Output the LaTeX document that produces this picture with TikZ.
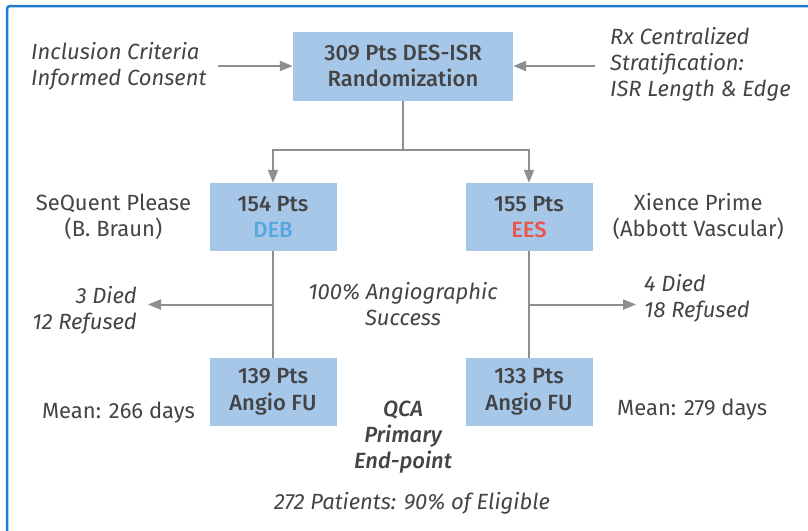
\documentclass[tikz,border=0pt]{standalone}
\usepackage{fontspec}
\setmainfont{Fira Sans}[BoldFont={Fira Sans Medium},BoldItalicFont={Fira Sans Medium Italic}]
\usetikzlibrary{arrows.meta,positioning,calc}

\definecolor{boxblue}{RGB}{166,199,232}
\definecolor{textgrey}{RGB}{68,68,70}
\definecolor{arrowgrey}{RGB}{140,142,146}
\definecolor{frameblue}{RGB}{30,125,205}
\definecolor{debblue}{RGB}{88,166,222}
\definecolor{eesred}{RGB}{236,84,74}

\begin{document}
\begin{tikzpicture}[
    x=1pt, y=-1pt,
    every node/.style={font=\fontsize{22}{26}\selectfont, text=textgrey, inner sep=2pt},
    ptsbox/.style={rectangle, fill=boxblue, minimum width=127pt, minimum height=68pt, align=center, font=\fontsize{22}{26.5}\selectfont\bfseries},
    note/.style={align=left, font=\fontsize{22}{26}\selectfont\itshape},
    arrow/.style={-{Triangle[length=13pt,width=10pt]}, line width=2pt, draw=arrowgrey},
    link/.style={line width=2pt, draw=arrowgrey},
    frame/.style={line width=2.5pt, draw=frameblue, rounded corners=3pt}
]
\useasboundingbox (0,0) rectangle (808,530);

% --- Frame ---
\draw[frame] (7,540) -- (7,6) -- (820,6);

% --- Boxes ---

% Randomization
\node[ptsbox, minimum width=220pt, minimum height=69pt] (rand) at (403,66) {309 Pts DES-ISR\\Randomization};

% Treatment arms
\node[ptsbox] (deb) at (273,217) {154 Pts\\\textcolor{debblue}{DEB}};
\node[ptsbox] (ees) at (529,217) {155 Pts\\\textcolor{eesred}{EES}};

% Follow-up
\node[ptsbox] (fudeb) at (273,392) {139 Pts\\Angio FU};
\node[ptsbox] (fuees) at (529,392) {133 Pts\\Angio FU};

% --- Notes ---
\node[note, anchor=west] (incl) at (29,66) {Inclusion Criteria\\Informed Consent};
\node[note, anchor=west] (strat) at (608,64) {Rx Centralized\\Stratification:\\ISR Length \& Edge};

\node[align=center, left=16pt of deb] (braun) {SeQuent Please\\(B. Braun)};
\node[align=center, right=18pt of ees] (abbott) {Xience Prime\\(Abbott Vascular)};

\node[note, align=right, anchor=east] (lossdeb) at (139,310) {3 Died\\12 Refused};
\node[note, anchor=west] (lossees) at (642,298) {4 Died\\18 Refused};

\node[note, align=center] (success) at (403,304.5) {100\% Angiographic\\Success};

\node[anchor=east] (meandeb) at (197,413) {Mean: 266 days};
\node[anchor=west] (meanees) at (615,410) {Mean: 279 days};

\node[note, align=center, font=\fontsize{22}{26}\selectfont\bfseries\itshape] (qca) at (403,437) {QCA\\Primary\\End-point};
\node[note, align=center] (total) at (412,503) {272 Patients: 90\% of Eligible};

% --- Arrows ---
\draw[arrow, shorten <=9pt] (incl.east |- rand.west) -- (rand.west);
\draw[arrow, shorten <=13pt] (strat.west |- rand.east) -- (rand.east);

\draw[link] (rand.south) -- ++(0,49) coordinate (split);
\draw[arrow] (split) -| (deb.north);
\draw[arrow] (split) -| (ees.north);

\draw[link] (deb) -- (fudeb);
\draw[link] (ees) -- (fuees);

\coordinate (forkdeb) at ($(deb.south)!0.5!(fudeb.north)$);
\coordinate (forkees) at ($(ees.south)!0.5!(fuees.north)$);
\draw[arrow, shorten >=9pt] (forkdeb) -- (forkdeb -| lossdeb.east);
\draw[arrow, shorten >=6pt] (forkees) -- (forkees -| lossees.west);

\end{tikzpicture}
\end{document}
